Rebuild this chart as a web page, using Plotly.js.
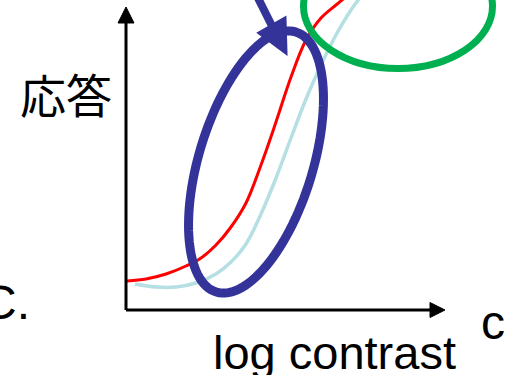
<!DOCTYPE html>
<html>
<head>
<meta charset="utf-8">
<script src="https://cdn.plot.ly/plotly-3.0.1.min.js"></script>
<style>html,body{margin:0;padding:0;background:#fff;}#chart{width:516px;height:375px;}</style>
</head>
<body>
<div id="chart"></div>
<script>
// Data coordinates: x = log contrast (arbitrary units), y = response (arbitrary units)
var redX  = [1, 20, 40, 60, 75, 90, 105, 120, 135, 150, 165, 180, 195, 210, 226];
var redY  = [29, 31, 36, 44, 52, 65, 83, 107, 145, 188, 233, 270, 292, 305, 318];
var blueX = [9, 30, 50, 70, 90, 105, 120, 135, 150, 165, 180, 195, 210, 225, 240];
var blueY = [26, 23, 23, 27, 36, 48, 66, 96, 132, 172, 211, 245, 275, 300, 320];

var yLabel = "応答";
var xLabel = "log contrast";
var leftLabel = "C.";
var rightLabel = "c";

// ellipse geometry helper (drawing aid, not data)
function ellipsePath(cx, cy, a, b, angDeg, n) {
  var th = angDeg * Math.PI / 180, ct = Math.cos(th), st = Math.sin(th), p = "";
  for (var i = 0; i <= n; i++) {
    var t = 2 * Math.PI * i / n;
    var x = cx + a * Math.cos(t) * ct - b * Math.sin(t) * st;
    var y = cy + a * Math.cos(t) * st + b * Math.sin(t) * ct;
    p += (i === 0 ? "M" : "L") + x.toFixed(2) + "," + y.toFixed(2);
  }
  return p + "Z";
}

var traces = [
  {x: redX, y: redY, mode: "lines", line: {color: "#ff0000", width: 3, shape: "spline", smoothing: 1}, hoverinfo: "skip"},
  {x: blueX, y: blueY, mode: "lines", line: {color: "#b5dfe3", width: 3.5, shape: "spline", smoothing: 1}, hoverinfo: "skip"}
];

var navy = "#333399";
var shapes = [
  // axes
  {type: "line", x0: 0, y0: 0, x1: 0, y1: 288, line: {color: "#000", width: 3}},
  {type: "path", path: "M0,303 L-8,287 L8,287 Z", fillcolor: "#000", line: {color: "#000", width: 1}},
  {type: "line", x0: 0, y0: 0, x1: 306, y1: 0, line: {color: "#000", width: 3}},
  {type: "path", path: "M319,0 L304,7.5 L304,-7.5 Z", fillcolor: "#000", line: {color: "#000", width: 1}},
  // green ellipse
  {type: "circle", x0: 177.5, x1: 366.5, y0: 241.5, y1: 366, line: {color: "#00b050", width: 7}},
  // navy ellipse
  {type: "path", path: ellipsePath(130, 148, 136, 57, 73, 120), line: {color: navy, width: 9}},
  // navy arrow
  {type: "line", x0: 132, y0: 312, x1: 146, y1: 284, line: {color: navy, width: 8}},
  {type: "path", path: "M160,257 L133,277 L159,292 Z", fillcolor: navy, line: {color: navy, width: 3}}
];

var annFont = {family: "Liberation Sans, Arial, sans-serif", color: "#000"};
var annotations = [
  {x: -60, y: 217, text: yLabel, showarrow: false, xanchor: "center", yanchor: "middle",
   font: {family: "Noto Sans CJK JP, sans-serif", size: 46, color: "#000"}},
  {x: 208, y: -42, text: xLabel, showarrow: false, xanchor: "center", yanchor: "middle",
   font: Object.assign({size: 47}, annFont)},
  {x: -94, y: 8, text: leftLabel, showarrow: false, xanchor: "right", yanchor: "middle",
   font: Object.assign({size: 48}, annFont)},
  {x: 367, y: -12, text: rightLabel, showarrow: false, xanchor: "center", yanchor: "middle",
   font: Object.assign({size: 48}, annFont)}
];

var layout = {
  width: 516, height: 375,
  margin: {l: 0, r: 0, t: 0, b: 0},
  paper_bgcolor: "#fff", plot_bgcolor: "#fff",
  showlegend: false,
  xaxis: {range: [-126, 390], visible: false, fixedrange: true},
  yaxis: {range: [-65, 310], visible: false, fixedrange: true},
  shapes: shapes,
  annotations: annotations
};

Plotly.newPlot("chart", traces, layout, {staticPlot: true, displayModeBar: false});
</script>
</body>
</html>
